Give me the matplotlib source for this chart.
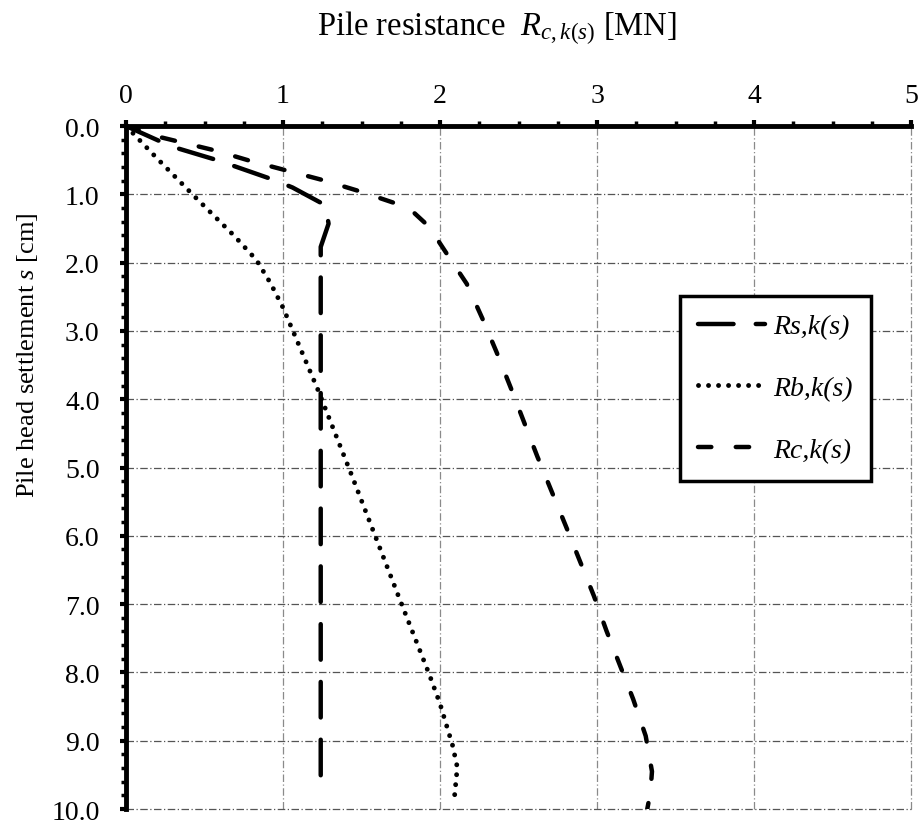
"Load-settlement curves of a pile: shaft, base and total resistance."

import matplotlib
matplotlib.use("Agg")
import matplotlib.pyplot as plt
from matplotlib.ticker import MultipleLocator, FormatStrFormatter

plt.rcParams["font.family"] = ["Liberation Serif", "DejaVu Serif"]
plt.rcParams["mathtext.fontset"] = "custom"
plt.rcParams["mathtext.rm"] = "Liberation Serif"
plt.rcParams["mathtext.it"] = "Liberation Serif:italic"

# shaft resistance Rs,k(s) [MN] vs settlement [cm]
rs_values = [0.0, 0.29, 0.58, 0.93, 1.06, 1.27, 1.29, 1.24, 1.24, 1.24]
rs_settle = [0.0, 0.30, 0.50, 0.78, 0.90, 1.16, 1.43, 1.77, 1.95, 9.71]

# base resistance Rb,k(s)
rb_values = [0.0, 0.20, 0.44, 0.69, 0.83, 0.92, 1.00, 1.22, 1.43, 1.75,
             1.93, 2.00, 2.08, 2.11, 2.09]
rb_settle = [0.0, 0.48, 1.04, 1.61, 1.96, 2.30, 2.66, 3.85, 5.07, 6.97,
             8.02, 8.46, 9.07, 9.39, 9.87]

# total resistance Rc,k(s)
rc_values = [0.0, 0.23, 0.57, 0.79, 1.02, 1.25, 1.48, 1.70, 1.82, 1.90,
             1.98, 2.04, 2.17, 2.27, 2.36, 2.45, 2.62, 2.80, 2.98, 3.06,
             3.23, 3.31, 3.35, 3.34, 3.32]
rc_settle = [0.0, 0.17, 0.36, 0.51, 0.65, 0.79, 0.95, 1.12, 1.24, 1.41,
             1.65, 1.86, 2.31, 2.82, 3.31, 3.83, 4.84, 5.85, 6.88, 7.39,
             8.39, 8.93, 9.45, 9.76, 10.0]

labels = ["Rs,k(s)", "Rb,k(s)", "Rc,k(s)"]

fig = plt.figure(figsize=(9.18, 8.29), dpi=100)
ax = fig.add_axes([0.1373, 0.0229, 0.8551, 0.8239])

lw = 3.2
ax.plot(rs_values, rs_settle, color="black", lw=lw, linestyle=(0, (8, 5)),
        dash_capstyle="round", solid_capstyle="round", label=labels[0], zorder=3)
ax.plot(rb_values, rb_settle, color="black", lw=3.5, linestyle=(0, (0.01, 2.05)),
        dash_capstyle="round", label=labels[1], zorder=3)
ax.plot(rc_values, rc_settle, color="black", lw=lw, linestyle=(0, (3.0, 5.5)),
        dash_capstyle="round", label=labels[2], zorder=3)

ax.set_xlim(0, 5)
ax.set_ylim(10, 0)
ax.xaxis.tick_top()
ax.xaxis.set_major_locator(MultipleLocator(1))
ax.xaxis.set_minor_locator(MultipleLocator(0.25))
ax.yaxis.set_major_locator(MultipleLocator(1))
ax.yaxis.set_minor_locator(MultipleLocator(0.2))
ax.yaxis.set_major_formatter(FormatStrFormatter("%.1f"))

ax.tick_params(which="major", direction="out", length=4, width=3,
               labelsize=20, top=True, bottom=False,
               left=True, right=False)
ax.tick_params(which="minor", direction="out", length=3.5, width=2.5,
               top=True, bottom=False, left=True, right=False)
ax.tick_params(axis="x", pad=9)
ax.tick_params(axis="y", pad=15)

for side in ["right", "bottom"]:
    ax.spines[side].set_visible(False)
for side in ["top", "left"]:
    ax.spines[side].set_linewidth(3.5)
    ax.spines[side].set_zorder(4)

ax.grid(axis="x", which="major", color="#8a8a8a", lw=0.9,
        linestyle=(0, (6, 2, 1, 2)), clip_on=False)
ax.grid(axis="y", which="major", color="#555555", lw=0.9,
        linestyle=(0, (6, 2, 1, 2)), clip_on=False)

fig.text(0.541, 0.958, "Pile resistance  $R_{c,k(s)}$ [MN]",
         ha="center", va="baseline", fontsize=23.5)
fig.text(0.030, 0.572, "Pile head settlement $s$ [cm]", rotation=90,
         ha="center", va="center", fontsize=19)

leg = ax.legend(loc="upper left", bbox_to_anchor=(0.7407, 0.6417),
                bbox_transform=fig.transFigure, borderaxespad=0,
                frameon=True, fancybox=False, framealpha=1,
                edgecolor="black", prop={"style": "italic", "size": 20},
                handlelength=2.4, handletextpad=0.3, labelspacing=1.3,
                borderpad=0.65)
leg.get_frame().set_linewidth(2.5)

fig.savefig("out.png", dpi=100)
